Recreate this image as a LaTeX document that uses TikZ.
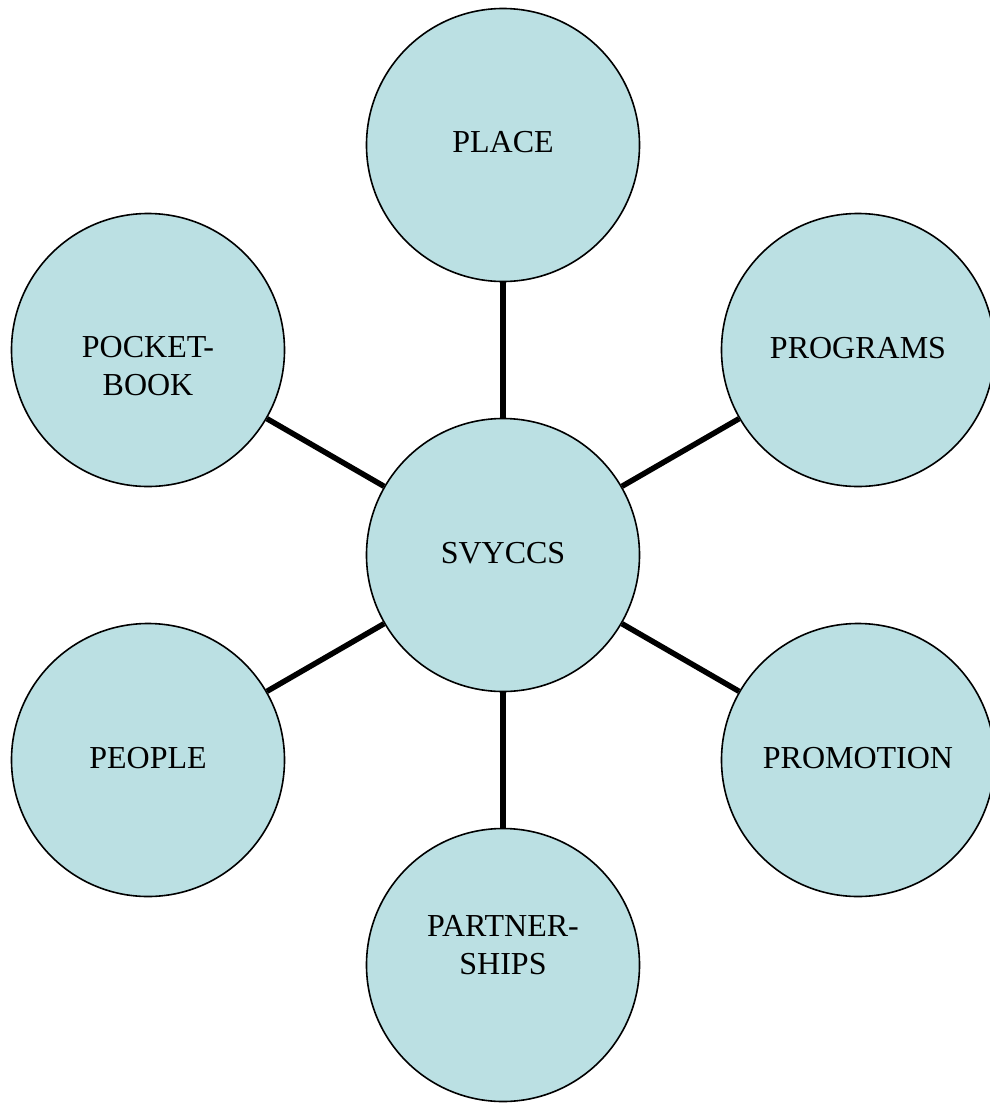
\documentclass[tikz,border=0pt]{standalone}
\usepackage{fontspec}
\setmainfont{Liberation Serif}
\definecolor{bubble}{HTML}{BBE0E3}
\begin{document}
\begin{tikzpicture}[x=1pt,y=-1pt,
  bub/.style={circle,draw=black,line width=1.6pt,fill=bubble,minimum size=273pt,inner sep=0pt},
  lbl/.style={align=center,font=\fontsize{32}{38}\selectfont,inner sep=0pt},
  conn/.style={line width=5.5pt}]
\useasboundingbox (0,0) rectangle (990,1104);
\node[bub] (c)  at (503,555) {};
\node[bub] (pl) at (503,145) {};
\node[bub] (pg) at (858,350) {};
\node[bub] (pm) at (858,760) {};
\node[bub] (ps) at (503,965) {};
\node[bub] (pe) at (148,760) {};
\node[bub] (pb) at (148,350) {};
\draw[conn] (c) -- (pl);
\draw[conn] (c) -- (pg);
\draw[conn] (c) -- (pm);
\draw[conn] (c) -- (ps);
\draw[conn] (c) -- (pe);
\draw[conn] (c) -- (pb);
\node[lbl] (tc)  at (503,553.5) {SVYCCS};
\node[lbl] (tpl) at (503,142.5) {PLACE};
\node[lbl] (tpg) at (858,348) {PROGRAMS};
\node[lbl] (tpm) at (858,758) {PROMOTION};
\node[lbl] (tps) at (503,945.5) {PARTNER-\\SHIPS};
\node[lbl] (tpe) at (148,758) {PEOPLE};
\node[lbl] (tpb) at (148,366) {POCKET-\\BOOK};
\end{tikzpicture}
\end{document}
